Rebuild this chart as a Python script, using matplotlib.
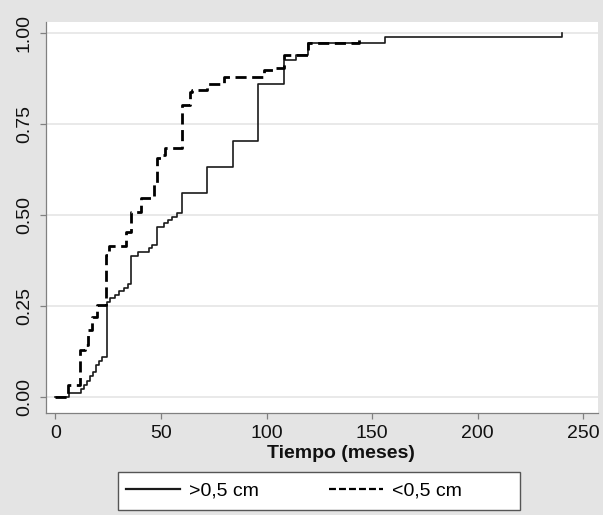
import matplotlib
matplotlib.use("Agg")
import matplotlib.pyplot as plt
from matplotlib.lines import Line2D
from matplotlib.patches import Rectangle

plt.rcParams['font.family'] = ['Liberation Sans', 'DejaVu Sans']
plt.rcParams['lines.scale_dashes'] = False

# Kaplan-Meier style cumulative curves (time in months, cumulative proportion)
solid_t = [0, 6.3, 12.2, 13.4, 14.7, 16.3, 17.9, 19.2, 20.6, 22.0, 24.3, 26.0, 28.0,
           30.0, 32.5, 34.5, 36.0, 39.2, 44.2, 45.8, 48.0, 51.5, 53.2, 55.0, 57.5,
           59.7, 72.0, 84.2, 96.0, 108.2, 113.7, 119.7, 156.0, 240.0]
solid_v = [0, 0.011, 0.022, 0.034, 0.045, 0.058, 0.070, 0.089, 0.100, 0.112, 0.262,
           0.273, 0.282, 0.291, 0.300, 0.310, 0.388, 0.400, 0.409, 0.418, 0.469, 0.478,
           0.487, 0.496, 0.507, 0.562, 0.634, 0.705, 0.860, 0.927, 0.939, 0.972, 0.989, 1.0]

dashed_t = [0, 5.8, 11.8, 13.8, 15.5, 17.5, 19.6, 23.9, 25.3, 33.2, 35.9, 40.3, 46.6,
            47.9, 49.8, 52.0, 59.7, 63.5, 64.8, 72.0, 80.0, 98.7, 103.5, 108.2, 119.7, 143.6]
dashed_v = [0, 0.034, 0.130, 0.145, 0.185, 0.220, 0.255, 0.391, 0.415, 0.455, 0.510,
            0.547, 0.590, 0.657, 0.666, 0.684, 0.803, 0.838, 0.845, 0.862, 0.881, 0.899,
            0.905, 0.940, 0.972, 0.983]

labels = [">0,5 cm", "<0,5 cm"]
x_ticks = [0, 50, 100, 150, 200, 250]
y_ticks = [0.00, 0.25, 0.50, 0.75, 1.00]

W, H = 603, 515
fig = plt.figure(figsize=(W / 100, H / 100), dpi=100, facecolor='#e4e4e4')
ax = fig.add_axes([46 / W, 1 - 413 / H, 552 / W, 391 / H])
ax.set_facecolor('white')

ax.step(solid_t, solid_v, where='post', color='#1a1a1a', lw=1.2)
ax.step(dashed_t, dashed_v, where='post', color='black', lw=2.0,
        linestyle=(0, (8, 4)))

ax.set_xlim(-4.5, 257)
ax.set_ylim(-0.043, 1.031)
ax.set_xticks(x_ticks)
ax.set_yticks(y_ticks)
ax.set_yticklabels([f"{v:.2f}" for v in y_ticks], rotation=90, va='center')
ax.grid(axis='y', color='#e3e3e3', lw=1.1)
ax.set_axisbelow(True)

for side in ['top', 'right']:
    ax.spines[side].set_visible(False)
for side in ['left', 'bottom']:
    ax.spines[side].set_color('#808080')
    ax.spines[side].set_linewidth(0.9)
ax.tick_params(direction='out', length=4.5, width=0.9, color='#808080',
               labelsize=14, labelcolor='#111111')
ax.tick_params(axis='y', pad=5)
ax.tick_params(axis='x', pad=4)

fig.text(341 / W, 1 - 454 / H, "Tiempo (meses)", ha='center', va='center',
         fontsize=14, fontweight='bold', color='#111111')

# legend box (white, dark border) in figure pixels
fig.patches.append(Rectangle((118 / W, 1 - 510 / H), 402 / W, 38 / H,
                             transform=fig.transFigure, facecolor='white',
                             edgecolor='#555555', lw=1.0, zorder=1))
handles = [Line2D([], [], color='#1a1a1a', lw=1.6),
           Line2D([], [], color='black', lw=1.6, linestyle=(0, (5, 2.2)))]
leg = fig.legend(handles, labels, loc='center left',
                 bbox_to_anchor=(120 / W, 1 - 491 / H), ncol=2, fontsize=14,
                 frameon=False, handlelength=2.8, handletextpad=0.45,
                 columnspacing=3.6, borderpad=0.3, borderaxespad=0)
leg.set_zorder(2)

fig.savefig("out.png", dpi=100, facecolor=fig.get_facecolor())
